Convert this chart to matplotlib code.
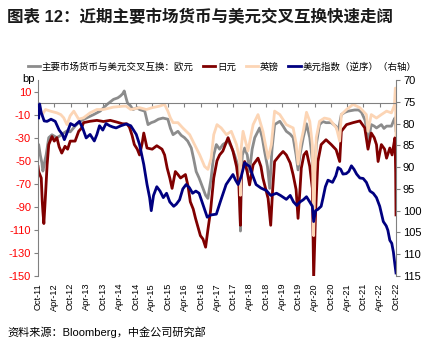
import matplotlib
matplotlib.use("Agg")
import matplotlib.pyplot as plt

plt.rcParams['font.family'] = ['Liberation Sans', 'Noto Sans CJK SC']
plt.rcParams['axes.unicode_minus'] = False

title = '图表 12：近期主要市场货币与美元交叉互换快速走阔'
source = '资料来源：Bloomberg，中金公司研究部'
names = ['主要市场货币与美元交叉互换：欧元', '日元', '英镑', '美元指数（逆序）（右轴）']

# time in decimal years, values in bp (left) / index (right)
eur_t = [2011.75, 2011.77, 2011.82, 2011.87, 2011.90, 2011.93, 2011.96, 2012.00, 2012.08, 2012.18,
         2012.33, 2012.45, 2012.54, 2012.65, 2012.74, 2012.89, 2013.05, 2013.25, 2013.46, 2013.66,
         2013.87, 2014.07, 2014.20, 2014.28, 2014.35, 2014.40, 2014.45, 2014.50, 2014.58, 2014.67,
         2014.80, 2014.87, 2015.03, 2015.13, 2015.23, 2015.33, 2015.45, 2015.59, 2015.74, 2015.82,
         2015.90, 2016.05, 2016.15, 2016.25, 2016.35, 2016.46, 2016.53, 2016.61, 2016.70, 2016.82,
         2016.90, 2016.97, 2017.07, 2017.15, 2017.23, 2017.33, 2017.43, 2017.59, 2017.69, 2017.79,
         2017.90, 2017.95, 2017.97, 2017.99, 2018.03, 2018.10, 2018.18, 2018.25, 2018.33, 2018.41,
         2018.56, 2018.64, 2018.71, 2018.80, 2018.87, 2018.94, 2019.02, 2019.18, 2019.28, 2019.38,
         2019.50, 2019.59, 2019.68, 2019.74, 2019.80, 2019.90, 2020.00, 2020.10, 2020.18, 2020.22,
         2020.26, 2020.30, 2020.40, 2020.50, 2020.60, 2020.76, 2020.90, 2020.97, 2021.07, 2021.18,
         2021.28, 2021.48, 2021.60, 2021.69, 2021.80, 2021.84, 2021.89, 2021.95, 2021.99, 2022.08,
         2022.15, 2022.30, 2022.38, 2022.46, 2022.61, 2022.68, 2022.72, 2022.75]
eur_v = [-40, -36, -45, -52, -59, -55, -50, -45, -30, -27.5,
         -30, -28, -26, -24, -25, -20, -15.7, -12.8, -10, -7,
         -1.2, 3.2, 4.5, 6.1, 8, 10.5, 5, 0, -2, -5.6,
         -4, -5.6, -7, -18.7, -17, -16, -14, -13, -14, -22,
         -27.4, -24.5, -28, -30, -33, -39, -48, -59.4, -65, -74,
         -80, -82.7, -65, -45, -36, -40, -36, -33, -38, -45,
         -55, -70, -111, -60, -45, -39, -45, -59.4, -40, -30,
         -21.6, -30, -41.6, -55, -74, -40, -18.7, -15.8, -20, -24.5,
         -27, -30, -45, -58, -45, -30, -18, -30, -50, -106,
         -60, -36, -18.7, -16, -17, -17, -20, -24.5, -10, -8,
         -7, -6, -6, -8, -15, -21.6, -38, -25, -18.7, -20,
         -21.6, -18.7, -22, -20, -20, -15, -12.8, -24]

jpy_t = [2011.75, 2011.77, 2011.85, 2011.88, 2011.90, 2011.93, 2011.96, 2011.98, 2012.03, 2012.08,
         2012.18, 2012.25, 2012.33, 2012.40, 2012.48, 2012.58, 2012.66, 2012.74, 2012.89, 2013.00,
         2013.08, 2013.15, 2013.35, 2013.56, 2013.76, 2013.97, 2014.17, 2014.35, 2014.48, 2014.56,
         2014.64, 2014.71, 2014.80, 2014.87, 2014.95, 2015.00, 2015.10, 2015.26, 2015.40, 2015.56,
         2015.64, 2015.72, 2015.80, 2015.87, 2015.97, 2016.05, 2016.13, 2016.28, 2016.36, 2016.43,
         2016.52, 2016.59, 2016.67, 2016.74, 2016.82, 2016.90, 2016.97, 2017.05, 2017.15, 2017.25,
         2017.33, 2017.43, 2017.59, 2017.74, 2017.85, 2017.92, 2017.97, 2018.00, 2018.10, 2018.18,
         2018.25, 2018.36, 2018.51, 2018.60, 2018.66, 2018.75, 2018.82, 2018.90, 2018.96, 2019.02,
         2019.18, 2019.28, 2019.38, 2019.50, 2019.59, 2019.68, 2019.74, 2019.80, 2019.84, 2019.92,
         2020.00, 2020.10, 2020.18, 2020.22, 2020.28, 2020.35, 2020.45, 2020.60, 2020.76, 2020.91,
         2021.02, 2021.07, 2021.23, 2021.43, 2021.64, 2021.79, 2021.89, 2021.99, 2022.08, 2022.15,
         2022.20, 2022.30, 2022.40, 2022.46, 2022.56, 2022.63, 2022.69, 2022.72, 2022.74, 2022.75]
jpy_v = [-55, -59.4, -65, -85, -94, -104.5, -90, -80, -53.6, -36,
         -29, -33, -30, -38, -43.4, -37.5, -40, -33, -33, -24.5,
         -22, -17, -15.8, -15, -16, -15, -16.5, -18, -18, -21,
         -28, -36, -40, -45, -35, -26, -39, -40, -37, -40,
         -45, -56.5, -65, -74, -59.4, -62, -65, -62, -72, -85.6,
         -92, -100, -108, -115, -118, -125, -110, -94, -65, -50,
         -45, -41.6, -30, -41.6, -55, -70, -106, -60, -50.7, -60,
         -71, -53.6, -47.8, -55, -65, -75, -82.7, -106, -75, -50.7,
         -45, -42, -45, -52, -62.3, -75, -100, -75, -56.5, -45,
         -42, -55, -74, -152, -94, -50.7, -36, -31.8, -36, -40.5,
         -50.7, -24.5, -18.7, -17, -15.5, -21.5, -40, -26, -30, -36,
         -50.7, -36, -40, -47.8, -39, -45, -34.7, -30, -60, -97]

gbp_t = [2011.75, 2011.77, 2011.88, 2011.98, 2012.13, 2012.33, 2012.45, 2012.54, 2012.64, 2012.74,
         2012.85, 2013.00, 2013.15, 2013.35, 2013.56, 2013.76, 2014.07, 2014.38, 2014.46, 2014.60,
         2014.87, 2015.08, 2015.26, 2015.48, 2015.64, 2015.74, 2015.82, 2015.90, 2016.05, 2016.20,
         2016.41, 2016.56, 2016.72, 2016.87, 2016.97, 2017.07, 2017.15, 2017.25, 2017.38, 2017.54,
         2017.69, 2017.85, 2017.95, 2017.97, 2017.99, 2018.05, 2018.20, 2018.36, 2018.51, 2018.66,
         2018.82, 2018.92, 2019.02, 2019.18, 2019.38, 2019.59, 2019.68, 2019.74, 2019.82, 2019.90,
         2020.00, 2020.10, 2020.18, 2020.22, 2020.26, 2020.30, 2020.40, 2020.55, 2020.71, 2020.92,
         2021.02, 2021.07, 2021.23, 2021.43, 2021.64, 2021.84, 2021.89, 2021.99, 2022.15, 2022.30,
         2022.46, 2022.61, 2022.70, 2022.73, 2022.75]
gbp_v = [-3, -4, -10, -5.6, -7, -8.5, -10, -12.8, -18.7, -11,
         -7, -14, -12.8, -8.5, -5.6, -5.6, -3.5, -2.7, -2.7, -5.6,
         -4, -5.6, -4, -2.7, -1.2, -7, -13, -17, -17, -21.6,
         -27.4, -36, -45, -55, -57.5, -48, -27.4, -18.7, -21.6, -27.4,
         -24.5, -36, -50, -80, -40, -24.5, -41.6, -18.7, -10, -24.5,
         -48, -36, -7, -10, -18.7, -21.6, -35, -53, -35, -24.5,
         -8, -15.8, -36, -115, -60, -30, -15.8, -13, -14, -21.6,
         -33, -10, -5.6, -1.2, -4, -10, -24.5, -10, -13, -10,
         -7, -8.5, -2, 13, -28]

dxy_t = [2011.77, 2011.80, 2011.85, 2011.94, 2012.03, 2012.15, 2012.28, 2012.40, 2012.50, 2012.56,
         2012.65, 2012.75, 2012.87, 2013.02, 2013.12, 2013.23, 2013.35, 2013.48, 2013.56, 2013.64,
         2013.74, 2013.84, 2013.95, 2014.05, 2014.15, 2014.30, 2014.46, 2014.60, 2014.77, 2014.87,
         2015.00, 2015.10, 2015.18, 2015.23, 2015.30, 2015.40, 2015.50, 2015.60, 2015.70, 2015.80,
         2015.92, 2016.00, 2016.10, 2016.20, 2016.30, 2016.40, 2016.50, 2016.60, 2016.70, 2016.85,
         2016.95, 2017.05, 2017.23, 2017.35, 2017.53, 2017.62, 2017.74, 2017.82, 2017.90, 2018.00,
         2018.10, 2018.18, 2018.25, 2018.35, 2018.45, 2018.60, 2018.77, 2018.90, 2019.08, 2019.20,
         2019.38, 2019.50, 2019.60, 2019.70, 2019.80, 2019.90, 2020.00, 2020.10, 2020.18, 2020.22,
         2020.28, 2020.35, 2020.45, 2020.51, 2020.58, 2020.66, 2020.80, 2020.90, 2020.97, 2021.05,
         2021.12, 2021.22, 2021.30, 2021.38, 2021.46, 2021.54, 2021.64, 2021.74, 2021.84, 2021.95,
         2022.05, 2022.15, 2022.25, 2022.36, 2022.45, 2022.50, 2022.56, 2022.62, 2022.67, 2022.71,
         2022.75]
dxy_v = [78.7, 75.5, 77.5, 79.4, 79.5, 79.0, 79.5, 81.5, 82.5, 83.7,
         82.0, 80.0, 80.5, 79.5, 81.0, 83.3, 82.5, 84.0, 82.5, 80.5,
         81.5, 80.0, 80.5, 80.8, 81.0, 80.5, 80.1, 80.5, 82.5, 84.8,
         89.4, 94.0, 97.0, 100.0, 96.5, 94.5, 95.5, 97.0, 96.0, 98.0,
         99.0, 98.5, 97.5, 95.0, 94.0, 94.7, 96.0, 95.5, 96.0, 99.3,
         101.5, 101.0, 100.8, 98.0, 94.0, 93.0, 91.7, 93.0, 94.0, 92.0,
         89.0, 89.5, 89.8, 92.0, 94.0, 94.8, 95.4, 96.5, 96.0, 96.5,
         97.4, 96.5, 98.0, 98.8, 98.0, 97.5, 96.8, 98.0, 99.0, 102.5,
         100.0, 99.7, 99.0, 97.0, 94.5, 93.0, 93.5, 92.0, 90.1, 90.5,
         91.6, 91.5, 91.0, 89.7, 90.5, 91.6, 92.5, 92.6, 93.5, 95.5,
         96.0, 97.0, 99.0, 102.5, 103.5, 104.5, 106.8, 107.5, 109.5, 112.0,
         114.3]

tick_pos = [2011.75 + 0.5 * i for i in range(23)]
tick_labels = []
for i in range(23):
    yr = 11 + (i + 1) // 2
    tick_labels.append(('Oct-%02d' if i % 2 == 0 else 'Apr-%02d') % yr)

gray = '#808080'
fig = plt.figure(figsize=(4.26, 3.47), dpi=100)
ax = fig.add_axes([38/426, 1-276/347, (396-38)/426, (276-80)/347])
ax2 = ax.twinx()

lw = 2.0
l1, = ax.plot(eur_t, eur_v, color='#8c8c8c', lw=lw)
l2, = ax.plot(jpy_t, jpy_v, color='#800000', lw=lw)
l3, = ax.plot(gbp_t, gbp_v, color='#fcd5b5', lw=lw)
l4, = ax2.plot(dxy_t, dxy_v, color='#000080', lw=lw)

ax.set_xlim(2011.75, 2022.75)
ax.set_ylim(-150, 20)
ax2.set_ylim(115, 70)
ax.set_yticks(range(10, -151, -20))
ax2.set_yticks(range(70, 116, 5))

for s in ['top', 'right']:
    ax.spines[s].set_visible(False)
for s in ['top', 'bottom', 'left']:
    ax2.spines[s].set_visible(False)
ax.spines['left'].set_color(gray)
ax2.spines['right'].set_color(gray)
ax.spines['bottom'].set_position(('data', 0))
ax.spines['bottom'].set_color(gray)

ax.tick_params(axis='y', colors=gray, labelcolor='red', labelsize=8, length=3, pad=2)
ax2.tick_params(axis='y', colors=gray, labelcolor='black', labelsize=8, length=3, pad=2)
ax.set_xticks(tick_pos)
ax.tick_params(axis='x', colors=gray, length=3, direction='out', labelbottom=False)

sec = ax.secondary_xaxis('bottom')
sec.set_xticks(tick_pos, labels=tick_labels)
sec.tick_params(length=0, labelsize=6.6, pad=5, labelrotation=90)
sec.spines['bottom'].set_visible(False)

fig.text(22/426, 1-79/347, 'bp', fontsize=8, va='center')
fig.text(7/426, 1-17/347, title, fontsize=11.9, fontweight='bold', va='center', color='#1a1a1a')
fig.text(7/426, 1-332/347, source, fontsize=8, va='center')

fig.legend([l1, l2, l3, l4], names, loc='center', bbox_to_anchor=(222/426, 1-67/347),
           ncol=4, frameon=False, fontsize=6.8, handlelength=1.3, handletextpad=0.2,
           columnspacing=1.0, borderaxespad=0)

fig.savefig('out.png', dpi=100)
